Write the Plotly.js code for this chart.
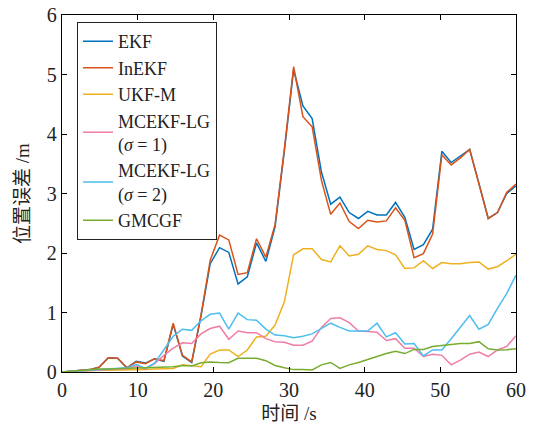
<!DOCTYPE html>
<html>
<head>
<meta charset="utf-8">
<script src="https://cdn.plot.ly/plotly-3.0.1.min.js"></script>
<style>html,body{margin:0;padding:0;background:#fff;}#chart{width:533px;height:426px;}</style>
</head>
<body>
<div id="chart"></div>
<script>
// time axis (s)
const timeS = [0, 1.22, 2.45, 3.67, 4.90, 6.12, 7.35, 8.57, 9.80, 11.02, 12.24, 13.47, 14.69, 15.92, 17.14, 18.37, 19.59, 20.82, 22.04, 23.27, 24.49, 25.71, 26.94, 28.16, 29.39, 30.61, 31.84, 33.06, 34.29, 35.51, 36.73, 37.96, 39.18, 40.41, 41.63, 42.86, 44.08, 45.31, 46.53, 47.76, 48.98, 50.20, 51.43, 52.65, 53.88, 55.10, 56.33, 57.55, 58.78, 60];

const ekf = [0, 0.01, 0.03, 0.04, 0.08, 0.24, 0.23, 0.07, 0.18, 0.15, 0.22, 0.18, 0.80, 0.27, 0.16, 0.94, 1.82, 2.09, 2.01, 1.48, 1.60, 2.17, 1.86, 2.44, 3.72, 5.08, 4.47, 4.26, 3.36, 2.82, 2.94, 2.68, 2.58, 2.70, 2.64, 2.64, 2.85, 2.60, 2.06, 2.14, 2.40, 3.71, 3.52, 3.63, 3.74, 3.17, 2.58, 2.68, 3.00, 3.13];
const inekf = [0, 0.01, 0.03, 0.04, 0.08, 0.24, 0.23, 0.07, 0.17, 0.14, 0.22, 0.19, 0.82, 0.28, 0.17, 0.96, 1.88, 2.30, 2.22, 1.64, 1.67, 2.24, 1.93, 2.48, 3.75, 5.13, 4.29, 4.12, 3.22, 2.65, 2.84, 2.53, 2.41, 2.55, 2.52, 2.54, 2.76, 2.55, 1.92, 1.99, 2.32, 3.65, 3.48, 3.60, 3.74, 3.17, 2.58, 2.68, 3.02, 3.16];
const ukfm = [0, 0.01, 0.02, 0.02, 0.03, 0.03, 0.03, 0.04, 0.04, 0.04, 0.05, 0.05, 0.06, 0.12, 0.10, 0.09, 0.30, 0.37, 0.37, 0.26, 0.37, 0.59, 0.60, 0.79, 1.18, 1.97, 2.07, 2.07, 1.89, 1.85, 2.12, 1.95, 1.98, 2.12, 2.06, 2.04, 1.97, 1.74, 1.75, 1.87, 1.74, 1.84, 1.82, 1.82, 1.84, 1.85, 1.73, 1.77, 1.87, 1.98];
const mcekf1 = [0, 0.01, 0.02, 0.03, 0.04, 0.05, 0.05, 0.05, 0.10, 0.05, 0.14, 0.28, 0.40, 0.49, 0.48, 0.64, 0.73, 0.77, 0.55, 0.69, 0.66, 0.66, 0.56, 0.51, 0.50, 0.45, 0.45, 0.52, 0.75, 0.90, 0.91, 0.83, 0.69, 0.68, 0.67, 0.53, 0.56, 0.40, 0.40, 0.26, 0.30, 0.28, 0.12, 0.20, 0.30, 0.335, 0.26, 0.37, 0.43, 0.61];
const mcekf2 = [0, 0.01, 0.02, 0.03, 0.04, 0.05, 0.06, 0.07, 0.13, 0.06, 0.15, 0.38, 0.60, 0.72, 0.70, 0.86, 0.97, 0.99, 0.72, 0.99, 0.88, 0.87, 0.72, 0.62, 0.61, 0.575, 0.60, 0.64, 0.73, 0.82, 0.75, 0.69, 0.69, 0.69, 0.82, 0.59, 0.66, 0.47, 0.48, 0.27, 0.37, 0.37, 0.56, 0.75, 0.95, 0.72, 0.80, 1.07, 1.32, 1.63];
const gmcgf = [0, 0.015, 0.03, 0.04, 0.05, 0.05, 0.055, 0.06, 0.06, 0.07, 0.07, 0.08, 0.09, 0.11, 0.10, 0.155, 0.17, 0.16, 0.155, 0.23, 0.225, 0.23, 0.19, 0.11, 0.07, 0.04, 0.04, 0.035, 0.12, 0.16, 0.06, 0.12, 0.16, 0.21, 0.27, 0.31, 0.35, 0.31, 0.38, 0.38, 0.43, 0.45, 0.46, 0.48, 0.48, 0.51, 0.39, 0.37, 0.375, 0.39];

const seriesNames = ['EKF', 'InEKF', 'UKF-M', 'MCEKF-LG<br>(<i>σ</i> = 1)', 'MCEKF-LG<br>(<i>σ</i> = 2)', 'GMCGF'];
const seriesData = [ekf, inekf, ukfm, mcekf1, mcekf2, gmcgf];
const colors = ['#0072BD', '#D95319', '#EDB120', '#F07DA8', '#4DBEEE', '#77AC30'];

const traces = seriesData.map((ys, i) => ({
  x: timeS, y: ys, type: 'scatter', mode: 'lines', name: seriesNames[i],
  line: {color: colors[i], width: 1.5}
}));

const serifFam = 'Liberation Serif, DejaVu Serif, serif';
const titleFam = 'Liberation Serif, Noto Sans CJK SC';
const layout = {
  width: 533, height: 426,
  margin: {l: 62, r: 17, t: 15, b: 54},
  paper_bgcolor: '#fff', plot_bgcolor: '#fff',
  font: {family: serifFam, size: 20, color: '#222'},
  showlegend: true,
  legend: {
    x: 0.033, y: 0.98, xanchor: 'left', yanchor: 'top',
    bgcolor: '#fff', bordercolor: '#222', borderwidth: 1,
    font: {family: serifFam, size: 18, color: '#222'},
    tracegroupgap: 0, itemwidth: 30
  },
  xaxis: {
    range: [0, 60], dtick: 10, tick0: 0,
    showgrid: false, zeroline: false,
    showline: true, linecolor: '#000', linewidth: 1.2, mirror: 'ticks',
    ticks: 'inside', ticklen: 5, tickcolor: '#000',
    tickfont: {family: serifFam, size: 20, color: '#222'},
    title: {text: '时间 /s', font: {family: titleFam, size: 19, color: '#222'}, standoff: 6}
  },
  yaxis: {
    range: [0, 6], dtick: 1, tick0: 0,
    showgrid: false, zeroline: false,
    showline: true, linecolor: '#000', linewidth: 1.2, mirror: 'ticks',
    ticks: 'inside', ticklen: 5, tickcolor: '#000',
    tickfont: {family: serifFam, size: 20, color: '#222'},
    title: {text: '位置误差 /m', font: {family: titleFam, size: 19, color: '#222'}, standoff: 12}
  }
};

Plotly.newPlot('chart', traces, layout, {staticPlot: true, displayModeBar: false});
</script>
</body>
</html>
